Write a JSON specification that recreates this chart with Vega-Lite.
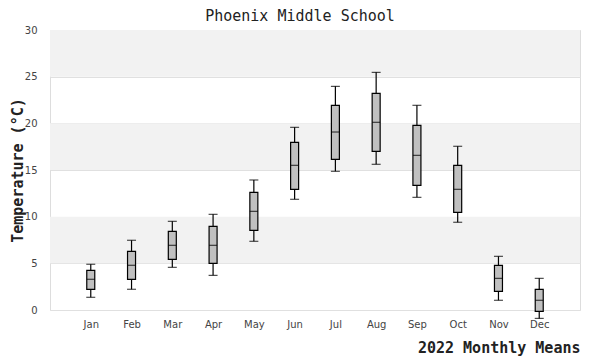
{
  "$schema": "https://vega.github.io/schema/vega-lite/v6.json",
  "width": 530,
  "height": 280,
  "autosize": {"type": "none"},
  "background": "white",
  "padding": {"left": 50, "top": 30, "right": 20, "bottom": 50},
  "title": {"text": "Phoenix Middle School", "font": "DejaVu Sans Mono", "fontSize": 15, "fontWeight": "normal", "color": "#222", "offset": 1, "anchor": "middle", "frame": "group", "dx": -15},
  "config": {
    "view": {"stroke": "#dddddd", "strokeWidth": 1},
    "axis": {"labelFont": "DejaVu Sans", "labelFontSize": 10, "labelColor": "#444", "titleFont": "DejaVu Sans Mono", "titleFontSize": 15, "titleFontWeight": "bold", "titleColor": "#222", "domain": false, "ticks": false}
  },
  "datasets": {
    "bands": [{"lo": 5, "hi": 10}, {"lo": 15, "hi": 20}, {"lo": 25, "hi": 30}],
    "months": [
      {"month": "Jan", "min": 1.36, "q1": 2.2, "median": 3.29, "q3": 4.25, "max": 4.9},
      {"month": "Feb", "min": 2.22, "q1": 3.29, "median": 4.79, "q3": 6.29, "max": 7.47},
      {"month": "Mar", "min": 4.57, "q1": 5.43, "median": 6.93, "q3": 8.43, "max": 9.5},
      {"month": "Apr", "min": 3.71, "q1": 5.0, "median": 6.93, "q3": 8.97, "max": 10.25},
      {"month": "May", "min": 7.36, "q1": 8.54, "median": 10.57, "q3": 12.6, "max": 13.93},
      {"month": "Jun", "min": 11.86, "q1": 12.93, "median": 15.5, "q3": 17.96, "max": 19.57},
      {"month": "Jul", "min": 14.86, "q1": 16.14, "median": 19.07, "q3": 21.93, "max": 23.96},
      {"month": "Aug", "min": 15.61, "q1": 17.0, "median": 20.11, "q3": 23.21, "max": 25.46},
      {"month": "Sep", "min": 12.07, "q1": 13.36, "median": 16.57, "q3": 19.79, "max": 21.93},
      {"month": "Oct", "min": 9.4, "q1": 10.47, "median": 12.93, "q3": 15.5, "max": 17.54},
      {"month": "Nov", "min": 1.04, "q1": 2.0, "median": 3.39, "q3": 4.79, "max": 5.75},
      {"month": "Dec", "min": -0.9, "q1": -0.14, "median": 1.04, "q3": 2.22, "max": 3.39}
    ]
  },
  "layer": [
    {
      "data": {"name": "bands"},
      "mark": {"type": "rect", "fill": "#f2f2f2"},
      "encoding": {
        "y": {"field": "lo", "type": "quantitative", "scale": {"domain": [0, 30], "nice": false}, "axis": {"values": [0, 5, 10, 15, 20, 25, 30], "grid": true, "gridColor": "#e0e0e0", "labelPadding": 13, "title": "Temperature (°C)", "titlePadding": -1}},
        "y2": {"field": "hi"}
      }
    },
    {
      "data": {"name": "months"},
      "layer": [
        {
          "mark": {"type": "rule", "color": "black", "strokeWidth": 1.2},
          "encoding": {
            "x": {"field": "month", "type": "nominal", "sort": null, "scale": {"type": "point", "padding": 1}, "axis": {"labelAngle": 0, "labelPadding": 9, "title": "2022 Monthly Means", "titleAnchor": "end", "titlePadding": 11}},
            "y": {"field": "min", "type": "quantitative"},
            "y2": {"field": "max"}
          }
        },
        {
          "mark": {"type": "bar", "fill": "#c0c0c0", "stroke": "black", "strokeWidth": 1.2, "size": 8},
          "encoding": {
            "x": {"field": "month", "type": "nominal", "sort": null},
            "y": {"field": "q1", "type": "quantitative"},
            "y2": {"field": "q3"}
          }
        },
        {
          "mark": {"type": "tick", "color": "black", "size": 8, "thickness": 1.2, "orient": "horizontal"},
          "encoding": {
            "x": {"field": "month", "type": "nominal", "sort": null},
            "y": {"field": "median", "type": "quantitative"}
          }
        },
        {
          "mark": {"type": "tick", "color": "black", "size": 9, "thickness": 1.2, "orient": "horizontal"},
          "encoding": {
            "x": {"field": "month", "type": "nominal", "sort": null},
            "y": {"field": "min", "type": "quantitative"}
          }
        },
        {
          "mark": {"type": "tick", "color": "black", "size": 9, "thickness": 1.2, "orient": "horizontal"},
          "encoding": {
            "x": {"field": "month", "type": "nominal", "sort": null},
            "y": {"field": "max", "type": "quantitative"}
          }
        }
      ]
    }
  ]
}
